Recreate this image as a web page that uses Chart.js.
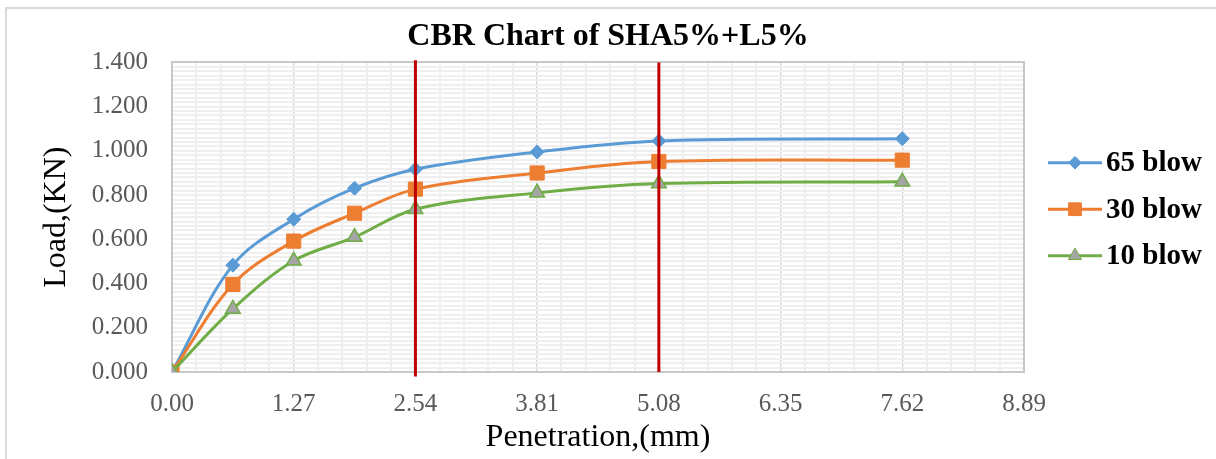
<!DOCTYPE html>
<html>
<head>
<meta charset="utf-8">
<script src="https://cdn.jsdelivr.net/npm/chart.js@4.4.1/dist/chart.umd.min.js"></script>
<style>
    html, body { margin: 0; padding: 0; background: #ffffff; }
    #cadre {
        position: absolute; left: 0; top: 0; width: 1216px; height: 459px;
    }
    #bord {
        position: absolute; left: 5px; top: 7px; width: 1211px; height: 452px;
        border-left: 2px solid #d9d9d9; border-top: 2px solid #d9d9d9;
        box-sizing: border-box; pointer-events: none;
    }
</style>
</head>
<body>
<div id="cadre"><canvas id="graphiqueCBR" width="1216" height="459"></canvas></div>
<div id="bord"></div>
<script>
// ==========================================================
// DONNEES DE L'ESSAI CBR
// ==========================================================
const penetrations = [0, 0.635, 1.27, 1.905, 2.54, 3.81, 5.08, 7.62];
const charge65 = [0, 0.483, 0.691, 0.831, 0.917, 0.995, 1.045, 1.055];
const charge30 = [0, 0.396, 0.592, 0.718, 0.827, 0.900, 0.952, 0.958];
const charge10 = [0, 0.285, 0.503, 0.610, 0.736, 0.810, 0.852, 0.860];
const nomsSeries = ['65 blow', '30 blow', '10 blow'];

// Lignes de lecture à 2.54 mm et 5.08 mm
const repere254 = [{ x: 2.54, y: -0.02 }, { x: 2.54, y: 1.41 }];
const repere508 = [{ x: 5.08, y: 0 }, { x: 5.08, y: 1.4 }];

// Graduations des axes
const pasX = 1.27;
const pasY = 0.2;
const maxX = 8.89;
const maxY = 1.4;

const BLEU = '#5b9bd5';
const ORANGE = '#ed7d31';
const VERT = '#70ad47';
const GRIS = '#a5a5a5';
const ROUGE = '#c00000';

const police = 'Liberation Serif, "Times New Roman", Times, serif';

function enPoints(valeurs) {
    return penetrations.map((x, i) => ({ x: x, y: valeurs[i] }));
}

// Légende maison : trait + marqueur puis le nom de la série, à droite du tracé
const legendeCBR = {
    id: 'legendeCBR',
    afterDraw(chart) {
        const ctx = chart.ctx;
        const zone = chart.chartArea;
        const xTrait = zone.right + 24;
        const milieu = (zone.top + zone.bottom) / 2 - 8;
        const ecart = 46.5;

        ctx.save();
        for (let i = 0; i < nomsSeries.length; i++) {
            const ds = chart.data.datasets[i];
            const y = milieu + (i - 1) * ecart;

            ctx.strokeStyle = ds.borderColor;
            ctx.lineWidth = 3;
            ctx.beginPath();
            ctx.moveTo(xTrait, y);
            ctx.lineTo(xTrait + 54, y);
            ctx.stroke();

            ctx.fillStyle = ds.backgroundColor;
            ctx.strokeStyle = ds.pointBorderColor || ds.borderColor;
            ctx.lineWidth = 1;
            Chart.helpers.drawPoint(ctx, {
                pointStyle: ds.pointStyle,
                radius: ds.pointRadius * 0.9,
                rotation: 0,
                borderWidth: 1
            }, xTrait + 27, y);

            ctx.fillStyle = '#000000';
            ctx.font = 'bold 29px ' + police;
            ctx.textAlign = 'left';
            ctx.textBaseline = 'middle';
            ctx.fillText(nomsSeries[i], xTrait + 58, y + 1);
        }
        ctx.restore();
    }
};

document.addEventListener("DOMContentLoaded", () => {
    const ctx = document.getElementById('graphiqueCBR').getContext('2d');
    new Chart(ctx, {
        type: 'line',
        data: {
            datasets: [
                {
                    label: nomsSeries[0], data: enPoints(charge65),
                    borderColor: BLEU, backgroundColor: BLEU, borderWidth: 3,
                    pointStyle: 'rectRot', pointRadius: 7, pointBorderWidth: 1,
                    tension: 0.35, order: 3
                },
                {
                    label: nomsSeries[1], data: enPoints(charge30),
                    borderColor: ORANGE, backgroundColor: ORANGE, borderWidth: 3,
                    pointStyle: 'rect', pointRadius: 10, pointBorderWidth: 1,
                    tension: 0.35, order: 2
                },
                {
                    label: nomsSeries[2], data: enPoints(charge10),
                    borderColor: VERT, backgroundColor: GRIS, borderWidth: 3,
                    pointStyle: 'triangle', pointRadius: 8.5, pointBorderWidth: 1.5,
                    pointBorderColor: VERT,
                    tension: 0.35, order: 1
                },
                {
                    label: 'repere1', data: repere254, borderColor: ROUGE, borderWidth: 3,
                    pointRadius: 0, clip: false, order: 0
                },
                {
                    label: 'repere2', data: repere508, borderColor: ROUGE, borderWidth: 3,
                    pointRadius: 0, clip: false, order: 0
                }
            ]
        },
        options: {
            responsive: false,
            animation: false,
            layout: { padding: { left: 0, top: 14, right: 0, bottom: 2 } },
            plugins: {
                title: {
                    display: true,
                    text: 'CBR Chart of SHA5%+L5%',
                    color: '#000000',
                    font: { family: police, size: 32, weight: 'bold', lineHeight: 1.2 },
                    padding: { top: 4, bottom: 6 }
                },
                legend: { display: false },
                tooltip: { enabled: false }
            },
            scales: {
                x: {
                    type: 'linear', position: 'bottom', min: 0, max: maxX,
                    afterFit: (axe) => { axe.height = 85; },
                    ticks: {
                        stepSize: pasX, padding: 17, color: '#595959',
                        font: { family: police, size: 25 },
                        callback: (v) => v.toFixed(2)
                    },
                    grid: { color: '#d9d9d9', lineWidth: 1.5, drawTicks: false },
                    border: { color: '#c8c8c8', width: 2 },
                    title: {
                        display: true, text: 'Penetration,(mm)', color: '#000000',
                        font: { family: police, size: 32, lineHeight: 1.1 },
                        padding: { top: 0, bottom: 2 }
                    }
                },
                xMineur: {
                    type: 'linear', position: 'top', min: 0, max: maxX,
                    ticks: { display: false, stepSize: pasX / 5 },
                    grid: {
                        drawTicks: false, lineWidth: 2,
                        color: (c) => (c.index % 5 === 0 ? 'rgba(0,0,0,0)' : '#efefef')
                    },
                    border: { color: '#c8c8c8', width: 2 }
                },
                y: {
                    type: 'linear', position: 'left', min: 0, max: maxY,
                    afterFit: (axe) => { axe.width = 172; },
                    ticks: {
                        stepSize: pasY, padding: 24, color: '#595959',
                        font: { family: police, size: 25 },
                        callback: (v) => v.toFixed(3)
                    },
                    grid: { color: '#ececec', lineWidth: 2, drawTicks: false },
                    border: { color: '#c8c8c8', width: 2 },
                    title: {
                        display: true, text: 'Load,(KN)', color: '#000000',
                        font: { family: police, size: 32, lineHeight: 1.1 },
                        padding: { top: 39, bottom: 0 }
                    }
                },
                yMineur: {
                    // axe sans graduations : il réserve la place de la légende à droite
                    type: 'linear', position: 'right', min: 0, max: maxY,
                    afterFit: (axe) => { axe.width = 192; },
                    ticks: { display: false, stepSize: pasY / 10 },
                    grid: { drawTicks: false, lineWidth: 2, color: '#efefef' },
                    border: { color: '#c8c8c8', width: 2 }
                }
            }
        },
        plugins: [legendeCBR]
    });
});
</script>
</body>
</html>
